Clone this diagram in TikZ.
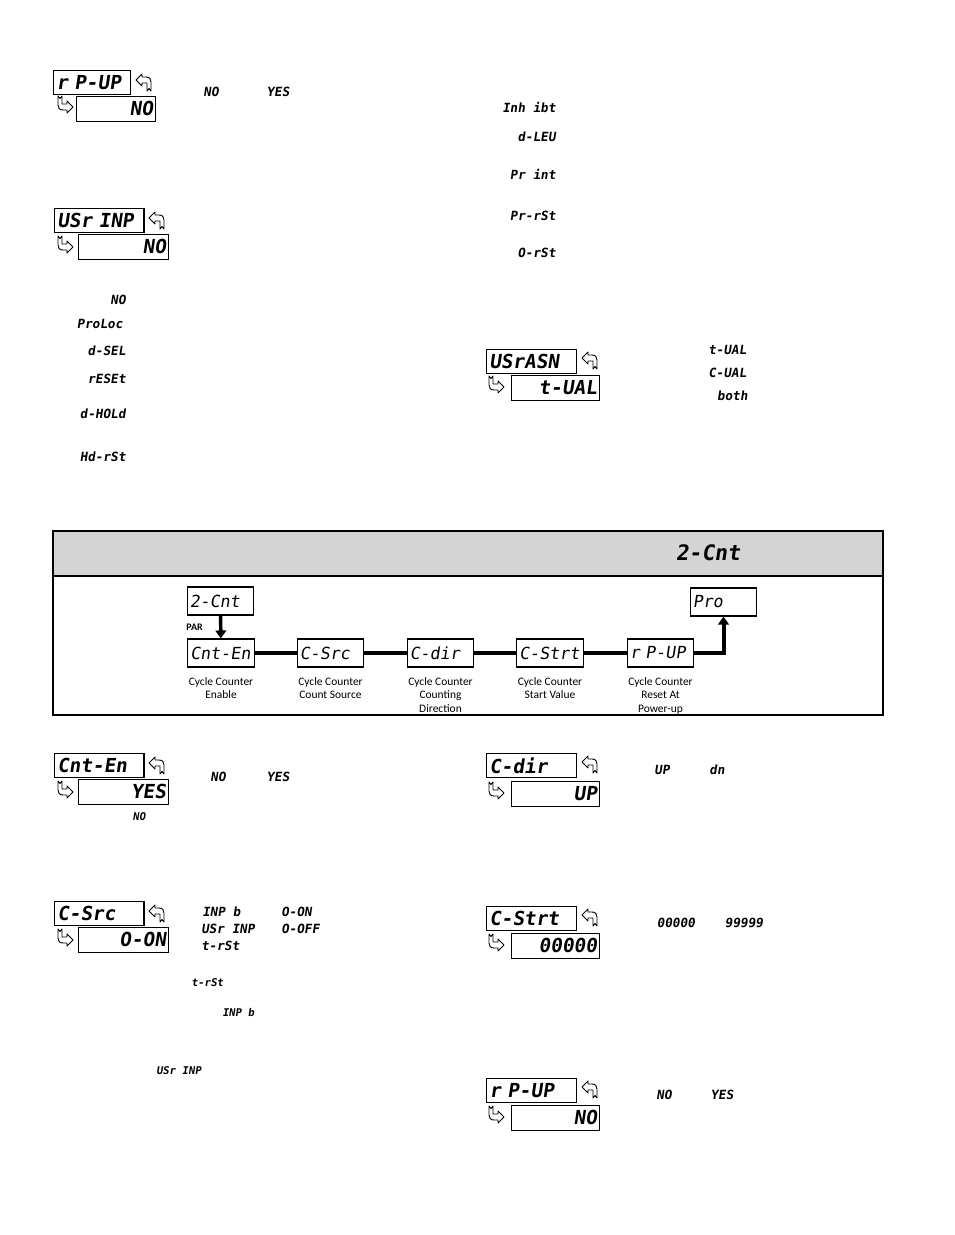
\documentclass[tikz,border=0pt]{standalone}
\usepackage{fontspec}
\setmainfont{Carlito}
\newfontfamily\segfont[FakeSlant=0.15]{DejaVu Sans Mono}
\usetikzlibrary{calc, positioning, arrows.meta}

\begin{document}
\begin{tikzpicture}[
    x=0.75pt, y=-0.75pt,
    dtop/.style={draw, line width=0.9pt, anchor=north west, minimum height=18pt,
        inner xsep=2pt, inner ysep=0pt, text width=#1, align=left,
        font=\segfont\bfseries\fontsize{14.5}{14.5}\selectfont},
    dbot/.style={draw, line width=0.9pt, anchor=north west, minimum height=18.5pt,
        inner xsep=2pt, inner ysep=0pt, text width=#1, align=right,
        font=\segfont\bfseries\fontsize{14.5}{14.5}\selectfont},
    seg/.style={inner sep=0pt, font=\segfont\bfseries\fontsize{9.5}{9.5}\selectfont},
    fbox/.style={draw, line width=0.8pt, minimum height=21pt, inner xsep=2pt,
        inner ysep=0pt, text width=46pt, align=left,
        font=\segfont\fontsize{12.5}{12.5}\selectfont},
    captext/.style={align=center, inner sep=0pt, font=\fontsize{8.6}{10.4}\selectfont},
    flow/.style={line width=3pt},
    flowarrow/.style={line width=2.6pt, -{Triangle[length=6pt, width=8pt]}},
    keyicon/.pic={
        \draw[line width=0.7pt, line join=round]
            (0,7) -- (6,1) -- (6,4) -- (10,4) .. controls (13.5,4) and (15,6) .. (15,9)
            -- (15,18) -- (13,15.5) -- (11,18) -- (11,10) -- (6,10) -- (6,13) -- cycle;
    }
]
    \useasboundingbox (0,0) rectangle (954,1235);

    % 1. Display r P-UP (top left)
    \node[dtop=53.75pt] (rpA) at (53,70) {r P-UP};
    \node[dbot=55.25pt] (rpAv) at (76,96) {NO};
    \pic at (136,73) {keyicon};
    \pic[rotate=180] at (73,114) {keyicon};
    \node[seg] (rpAno) at (211,92) {NO};
    \node[seg] (rpAyes) at (278,92) {YES};

    % 2. Display USr INP with its choices
    \node[dtop=63pt] (usi) at (54,208) {USr INP};
    \node[dbot=63.5pt] (usiv) at (78,234) {NO};
    \pic at (149,211) {keyicon};
    \pic[rotate=180] at (73,254) {keyicon};
    \node[seg, anchor=east] (usi1) at (126,300) {NO};
    \node[seg, anchor=east] (usi2) at (123,324) {ProLoc};
    \node[seg, anchor=east] (usi3) at (126,351) {d-SEL};
    \node[seg, anchor=east] (usi4) at (126,379) {rESEt};
    \node[seg, anchor=east] (usi5) at (126,414) {d-HOLd};
    \node[seg, anchor=east] (usi6) at (126,457) {Hd-rSt};

    % 3. Choices, right column
    \node[seg, anchor=east] (usi7) at (556,107) {Inh ibt};
    \node[seg, anchor=east] (usi8) at (556,137) {d-LEU};
    \node[seg, anchor=east] (usi9) at (556,174) {Pr int};
    \node[seg, anchor=east] (usi10) at (556,216) {Pr-rSt};
    \node[seg, anchor=east] (usi11) at (556,253) {O-rSt};

    % 4. Display USrASN
    \node[dtop=63.5pt] (usa) at (486,349) {USrASN};
    \node[dbot=62pt] (usav) at (511,375) {t-UAL};
    \pic at (582,351) {keyicon};
    \pic[rotate=180] at (504,394) {keyicon};
    \node[seg, anchor=west] (usa1) at (708,350) {t-UAL};
    \node[seg, anchor=west] (usa2) at (708,373) {C-UAL};
    \node[seg, anchor=east] (usa3) at (748,396) {both};

    % 5. Panel with header
    \fill[black!17] (53,531) rectangle (883,576);
    \draw[line width=1.5pt] (53,576) -- (883,576);
    \draw[line width=1.5pt] (53,531) rectangle (883,715);
    \node[inner sep=0pt, font=\segfont\bfseries\fontsize{16}{16}\selectfont] (head) at (708,553) {2-Cnt};

    % 6. Menu flow
    \node[fbox] (cnt2) at (220.5,601) {2-Cnt};
    \node[fbox] (pro) at (723.5,602) {Pro};
    \node[fbox] (cnten) at (221,653) {Cnt-En};
    \node[fbox] (csrc) at (330.5,653) {C-Src};
    \node[fbox] (cdir) at (440.5,653) {C-dir};
    \node[fbox] (cstrt) at (550,653) {C-Strt};
    \node[fbox] (rpup) at (660.5,653) {r P-UP};
    \node[inner sep=0pt, anchor=east, font=\bfseries\fontsize{7.5}{7.5}\selectfont] (par) at (203,627) {PAR};

    \draw[flowarrow] (cnt2) -- (cnten);
    \draw[flow] (cnten) -- (csrc);
    \draw[flow] (csrc) -- (cdir);
    \draw[flow] (cdir) -- (cstrt);
    \draw[flow] (cstrt) -- (rpup);
    \draw[flowarrow, line width=3pt] (rpup.east) -| (pro.south);

    \node[captext, below=7pt of cnten] (capen) {Cycle Counter\\Enable};
    \node[captext, below=7pt of csrc] (capsrc) {Cycle Counter\\Count Source};
    \node[captext, below=7pt of cdir] (capdir) {Cycle Counter\\Counting\\Direction};
    \node[captext, below=7pt of cstrt] (capstrt) {Cycle Counter\\Start Value};
    \node[captext, below=7pt of rpup] (caprp) {Cycle Counter\\Reset At\\Power-up};

    % 7. Display Cnt-En
    \node[dtop=63pt] (cen) at (54,753) {Cnt-En};
    \node[dbot=63.5pt] (cenv) at (78,779) {YES};
    \pic at (149,756) {keyicon};
    \pic[rotate=180] at (73,799) {keyicon};
    \node[seg] (cen1) at (218,777) {NO};
    \node[seg] (cen2) at (278,777) {YES};
    \node[seg, font=\segfont\bfseries\fontsize{8}{8}\selectfont] (cen3) at (139,817) {NO};

    % 8. Display C-Src
    \node[dtop=63pt] (csr) at (54,901) {C-Src};
    \node[dbot=63.5pt] (csrv) at (78,927) {O-ON};
    \pic at (149,904) {keyicon};
    \pic[rotate=180] at (73,947) {keyicon};
    \node[seg, anchor=west] (csr1) at (202,912) {INP b};
    \node[seg, anchor=west] (csr2) at (201,929) {USr INP};
    \node[seg, anchor=west] (csr3) at (201,946) {t-rSt};
    \node[seg, anchor=west] (csr4) at (281,912) {O-ON};
    \node[seg, anchor=west] (csr5) at (281,929) {O-OFF};
    \node[seg, anchor=west, font=\segfont\bfseries\fontsize{8}{8}\selectfont] (csr6) at (191,983) {t-rSt};
    \node[seg, anchor=west, font=\segfont\bfseries\fontsize{8}{8}\selectfont] (csr7) at (222,1013) {INP b};
    \node[seg, anchor=west, font=\segfont\bfseries\fontsize{8}{8}\selectfont] (csr8) at (156,1071) {USr INP};

    % 9. Display C-dir
    \node[dtop=63.5pt] (cdr) at (486,753) {C-dir};
    \node[dbot=62pt] (cdrv) at (511,781) {UP};
    \pic at (582,755) {keyicon};
    \pic[rotate=180] at (504,800) {keyicon};
    \node[seg] (cdr1) at (662,770) {UP};
    \node[seg] (cdr2) at (717,770) {dn};

    % 10. Display C-Strt
    \node[dtop=63.5pt] (cst) at (486,906) {C-Strt};
    \node[dbot=62pt] (cstv) at (511,933) {00000};
    \pic at (582,908) {keyicon};
    \pic[rotate=180] at (504,952) {keyicon};
    \node[seg] (cst1) at (676,923) {00000};
    \node[seg] (cst2) at (744,923) {99999};

    % 11. Display r P-UP (bottom right)
    \node[dtop=63.5pt] (rpB) at (486,1078) {r P-UP};
    \node[dbot=62pt] (rpBv) at (511,1105) {NO};
    \pic at (582,1080) {keyicon};
    \pic[rotate=180] at (504,1124) {keyicon};
    \node[seg] (rpB1) at (664,1095) {NO};
    \node[seg] (rpB2) at (722,1095) {YES};

\end{tikzpicture}
\end{document}
